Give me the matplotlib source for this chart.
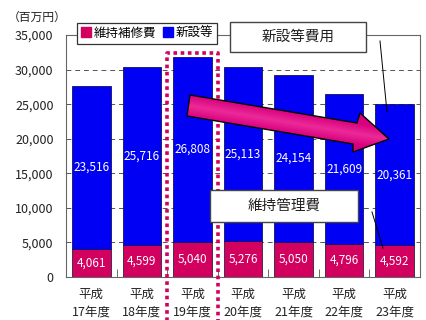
import numpy as np
import matplotlib
matplotlib.use('Agg')
import matplotlib.pyplot as plt
from matplotlib.patches import Polygon, Rectangle
from matplotlib.lines import Line2D
from matplotlib.colors import LinearSegmentedColormap

plt.rcParams['font.family'] = ['Noto Sans CJK JP', 'DejaVu Sans']

# Costs in million yen
years = ['平成\n17年度', '平成\n18年度', '平成\n19年度', '平成\n20年度',
         '平成\n21年度', '平成\n22年度', '平成\n23年度']
maintenance = [4061, 4599, 5040, 5276, 5050, 4796, 4592]
new_builds = [23516, 25716, 26808, 25113, 24154, 21609, 20361]
y_ticks = [0, 5000, 10000, 15000, 20000, 25000, 30000, 35000]

Maint_Color = '#D2005F'
New_Color = '#0000F5'
Text_Color = '#222222'
W, H = 426, 320

fig = plt.figure(figsize=(W / 100, H / 100), dpi=100)
ax = fig.add_axes([66 / W, 1 - 277 / H, 354 / W, 242 / H])

x = np.arange(len(years))
ax.bar(x, maintenance, width=0.76, color=Maint_Color, edgecolor='#302040', linewidth=0.6, zorder=3)
ax.bar(x, new_builds, bottom=maintenance, width=0.76, color=New_Color, edgecolor='#101060',
       linewidth=0.6, zorder=3)

for i in x:
    ax.text(i, maintenance[i] / 2, f'{maintenance[i]:,}', ha='center', va='center',
            color='white', fontsize=8.5, zorder=4)
    ax.text(i, maintenance[i] + new_builds[i] / 2, f'{new_builds[i]:,}', ha='center', va='center',
            color='white', fontsize=8.5, zorder=4)

ax.set_xlim(-0.5, len(years) - 0.5)
ax.set_ylim(0, 35000)
ax.set_yticks(y_ticks)
ax.set_yticklabels([f'{v:,}' for v in y_ticks])
ax.yaxis.grid(True, linestyle=(0, (5, 4)), color='#555555', linewidth=0.7)
ax.set_axisbelow(True)

ax.set_xticks(x)
ax.set_xticklabels(years, linespacing=1.45)
ax.set_xticks(np.arange(0.5, len(years) - 1, 1), minor=True)
ax.tick_params(axis='x', which='major', length=0, pad=8, labelsize=9, colors=Text_Color)
ax.tick_params(axis='x', which='minor', direction='in', length=6, color='#555555')
ax.tick_params(axis='y', length=0, pad=9, labelsize=9, colors=Text_Color)
for spine in ax.spines.values():
    spine.set_color('#666666')
    spine.set_linewidth(0.8)

fig.text(8 / W, 1 - 17 / H, '（百万円）', fontsize=8.5, va='center', color=Text_Color)

handles = [Line2D([], [], marker='s', ls='', color=Maint_Color, markersize=7, label='維持補修費'),
           Line2D([], [], marker='s', ls='', color=New_Color, markersize=7, label='新設等')]
legend = ax.legend(handles=handles, ncol=2, loc='upper left', bbox_to_anchor=(77 / W, 1 - 23 / H),
                   bbox_transform=fig.transFigure, fancybox=False, edgecolor='#333333', framealpha=1,
                   handlelength=0.8, handletextpad=0.2, columnspacing=0.6, borderpad=0.3,
                   borderaxespad=0, fontsize=9)
legend.get_frame().set_linewidth(0.9)

# overlay in pixel units for the callouts
ov = fig.add_axes([0, 0, 1, 1], zorder=5)
ov.set_xlim(0, W)
ov.set_ylim(H, 0)
ov.axis('off')

# dotted frame around 平成19年度
ov.plot([167, 167, 218, 218], [H + 5, 53, 53, H + 5], color=Maint_Color, lw=2.6,
        linestyle=(0, (1, 1.0)), dash_capstyle='butt')

# downward trend arrow
arrow_pts = [(190, 95), (357, 123), (360, 113), (389, 139), (353, 152), (353, 144), (187, 116)]
arrow = Polygon(arrow_pts, closed=True, fc='none', ec='black', lw=1.0, zorder=3)
ov.add_patch(arrow)
gx, gy = np.meshgrid(np.linspace(185, 392, 200), np.linspace(90, 155, 80))
dist = np.abs(gy - (105.5 + 0.168 * (gx - 188.5)))
shade = np.clip(dist / 11, 0, 1)
cmap = LinearSegmentedColormap.from_list('arrow', ['#EC2A98', '#D8007E'])
im = ov.imshow(shade, extent=(185, 392, 155, 90), cmap=cmap, vmin=0, vmax=1,
               interpolation='bilinear', aspect='auto', zorder=2)
im.set_clip_path(arrow)
ov.set_xlim(0, W)
ov.set_ylim(H, 0)

# callout boxes
ov.add_patch(Rectangle((230, 22), 136, 30, fc='white', ec='#444444', lw=1.0, zorder=4))
ov.text(298, 37, '新設等費用', ha='center', va='center', fontsize=10.5, color=Text_Color, zorder=5)
ov.plot([380, 387], [41, 112], color='black', lw=0.7)

ov.add_patch(Rectangle((210, 190), 148, 32, fc='white', ec='#444444', lw=1.0, zorder=4))
ov.text(284, 206, '維持管理費', ha='center', va='center', fontsize=10.5, color=Text_Color, zorder=5)
ov.plot([372, 383], [212, 248], color='black', lw=0.7)

fig.savefig('out.png', dpi=100)
